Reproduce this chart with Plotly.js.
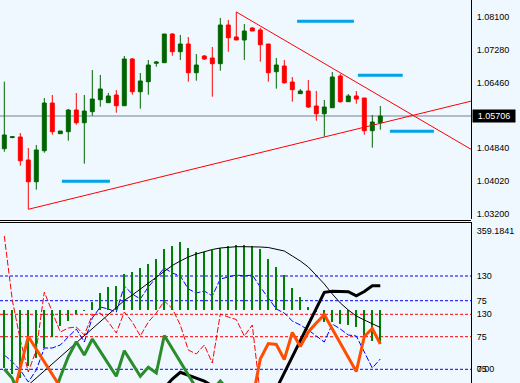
<!DOCTYPE html>
<html>
<head>
<meta charset="utf-8">
<script src="https://cdn.plot.ly/plotly-3.0.1.min.js"></script>
<style>
html,body{margin:0;padding:0;background:#F0F8FF;}
#chart{width:520px;height:383px;}
</style>
</head>
<body>
<div id="chart"></div>
<script>
// ---------- price panel data (EURUSD-like) ----------
const openP  = [1.04812,1.05090,1.05103,1.04531,1.03991,1.04762,1.05948,1.05185,1.05235,1.05774,1.05458,1.05732,1.06031,1.05956,1.06147,1.05881,1.07043,1.06229,1.06478,1.06936,1.06951,1.07664,1.07224,1.07416,1.06702,1.07117,1.07068,1.06926,1.07888,1.07590,1.07515,1.07814,1.07764,1.07416,1.06727,1.06869,1.06471,1.06180,1.06247,1.05874,1.05682,1.05831,1.06620,1.05981,1.06123,1.06073,1.05260,1.05458];
const highP  = [1.06478,1.05128,1.05202,1.04829,1.04904,1.06073,1.06147,1.05252,1.05799,1.06197,1.06147,1.06769,1.06645,1.06197,1.06272,1.07117,1.07068,1.06695,1.07018,1.06993,1.07664,1.07689,1.07640,1.07590,1.07167,1.07142,1.07341,1.08062,1.08013,1.08212,1.07913,1.07839,1.07814,1.07416,1.07068,1.07018,1.06595,1.06297,1.06520,1.06247,1.06023,1.06719,1.06670,1.06172,1.06247,1.06073,1.05650,1.05874];
const lowP   = [1.04737,1.05071,1.04389,1.03305,1.03792,1.04712,1.05160,1.05185,1.05011,1.05409,1.04439,1.05633,1.05856,1.05956,1.05707,1.05881,1.06155,1.05807,1.06155,1.06851,1.06951,1.07125,1.07018,1.06478,1.06503,1.07018,1.06105,1.06752,1.07224,1.07515,1.07018,1.07739,1.06976,1.06478,1.06304,1.06428,1.05981,1.06180,1.05824,1.05508,1.05110,1.05831,1.05956,1.05981,1.05931,1.05160,1.04837,1.05284];
const closeP = [1.05153,1.05108,1.04513,1.03991,1.04780,1.05948,1.05235,1.05252,1.05774,1.05458,1.05749,1.06048,1.06297,1.06123,1.05881,1.07043,1.06229,1.06496,1.06893,1.06968,1.07664,1.07224,1.07416,1.06702,1.06893,1.07043,1.06926,1.07888,1.07572,1.07515,1.07739,1.07739,1.07398,1.06702,1.06893,1.06453,1.06279,1.06247,1.05849,1.05682,1.05849,1.06595,1.05981,1.06123,1.06048,1.05260,1.05476,1.05625];
const priceLabel = "1.05706";
const priceTicks = [1.081,1.0728,1.0646,1.0484,1.0402,1.032];
const priceTickText = ["1.08100","1.07280","1.06460","1.04840","1.04020","1.03200"];

// trend lines (bar index, price)
const supportX = [3, 60];
const supportY = [1.03305, 1.06075];
const resistX  = [29, 60];
const resistY  = [1.08212, 1.04604];

// horizontal level segments (blue)
const levelStart = [7.2, 36.6, 44.2, 48.2];
const levelEnd   = [13.2, 43.7, 49.8, 53.7];
const levelPrice = [1.04001, 1.07980, 1.06637, 1.05245];

// ---------- indicator panel data ----------
const histBase = 154.0;
const histVals = [3.4,-12.2,-22.6,8.6,29.3,55.3,83.9,112.5,125.4,143.6,151.4,174.8,198.2,213.7,216.3,247.5,252.7,263.1,273.5,286.5,312.4,320.2,330.6,315.0,304.6,304.6,309.8,315.0,320.2,322.8,322.8,320.2,312.4,286.5,265.7,244.9,211.1,187.8,161.8,148.8,122.8,122.8,117.6,115.1,109.9,83.9,72.2,64.4];
const blueVals = [-45.9,-61.5,-79.3,-106.0,-79.3,-30.3,-30.3,-23.6,-5.8,12.0,-17.0,36.5,61.0,56.5,49.8,107.7,89.9,78.8,105.5,127.8,147.8,136.7,130.0,101.1,92.1,96.6,85.5,123.3,127.8,132.2,130.0,132.2,105.5,81.0,56.5,47.6,29.8,20.9,9.8,-3.6,-17.0,23.1,12.0,-1.4,-3.6,-39.2,-74.9,-54.8];
const redVals = [322.3,165.1,66.9,-11.7,42.3,184.8,135.6,86.5,96.4,98.8,79.2,128.3,133.2,111.1,84.1,135.6,111.1,76.7,111.1,133.2,162.7,144.2,103.7,42.3,32.5,54.6,10.4,130.7,123.4,117.2,76.7,103.7,-68.1,null,null,null,null,null,null,null,null,null,null,null,null,null,null,null];
const blackThin = [null,null,null,-40.8,-22.6,-4.4,13.8,31.9,50.1,68.3,86.5,104.7,122.8,141.0,159.2,178.7,193.0,208.5,224.1,239.7,255.3,269.6,281.3,291.7,299.4,305.9,311.1,315.0,317.6,318.4,318.4,318.4,317.6,316.3,312.4,307.2,294.3,281.3,265.7,244.9,221.5,195.6,172.2,154.0,138.4,128.0,117.6,108.6];
const blackThick = [null,null,null,null,null,null,null,null,null,null,null,null,null,null,null,null,null,null,null,null,-48.6,-25.2,-7.8,-14.8,-22.6,-30.4,-43.4,null,null,null,null,null,null,null,-51.2,-9.6,33.2,76.1,117.6,159.2,200.0,202.6,202.1,201.5,191.1,202.1,217.1,217.1];
const orangeVals = [null,-2.1,79.7,160.2,126.9,94.0,61.2,29.0,null,null,null,null,null,null,null,null,null,null,null,null,null,null,null,null,null,null,null,null,null,null,null,-4.7,101.7,142.0,139.4,100.5,170.6,134.2,171.9,195.2,216.8,179.9,143.0,106.2,69.3,160.2,181.0,140.7];
const greenVals = [75.8,51.6,-4.7,null,null,null,-4.7,55.0,107.7,146.7,112.1,153.7,121.5,89.0,56.8,123.3,90.1,56.8,80.2,65.4,162.8,127.7,94.0,60.2,26.4,null,21.2,44.6,21.2,null,null,null,null,null,null,null,null,null,null,null,null,null,null,null,null,null,null,null];
const blueLevels = [130, 75];
const redLevels = [130, 75];
const zeroLevel = 0;
const topLabel = 359.1841;

const idx = openP.map((_, i) => i);

const traces = [];
traces.push({
  type:'candlestick', x: idx, open: openP, high: highP, low: lowP, close: closeP,
  xaxis:'x', yaxis:'y',
  increasing:{line:{color:'#006400', width:1}, fillcolor:'#006400'},
  decreasing:{line:{color:'#FF0000', width:1}, fillcolor:'#FF0000'},
  whiskerwidth:0, hoverinfo:'skip'
});
traces.push({type:'scatter', mode:'lines', x: supportX, y: supportY, xaxis:'x', yaxis:'y', line:{color:'#FF0000', width:1}, hoverinfo:'skip'});
traces.push({type:'scatter', mode:'lines', x: resistX, y: resistY, xaxis:'x', yaxis:'y', line:{color:'#FF0000', width:1}, hoverinfo:'skip'});
levelPrice.forEach((p, k) => {
  traces.push({type:'scatter', mode:'lines', x:[levelStart[k], levelEnd[k]], y:[p, p], xaxis:'x', yaxis:'y', line:{color:'#00A2E8', width:3}, hoverinfo:'skip'});
});

// indicator panel
traces.push({type:'bar', x: idx, y: histVals.map(v => v - histBase), base: histBase, width: 0.25,
  marker:{color:'#008000', line:{width:0}}, xaxis:'x2', yaxis:'y4', hoverinfo:'skip'});
traces.push({type:'scatter', mode:'lines', x: idx, y: blueVals, xaxis:'x2', yaxis:'y2', line:{color:'#0000FF', width:1, dash:'6px,2px'}, hoverinfo:'skip'});
traces.push({type:'scatter', mode:'lines', x: idx, y: redVals, xaxis:'x2', yaxis:'y3', line:{color:'#FF0000', width:1, dash:'6px,2px'}, hoverinfo:'skip'});
traces.push({type:'scatter', mode:'lines', x: idx, y: blackThin, xaxis:'x2', yaxis:'y4', line:{color:'#000000', width:1}, hoverinfo:'skip'});
traces.push({type:'scatter', mode:'lines', x: idx, y: greenVals, xaxis:'x2', yaxis:'y5', line:{color:'#2A8C2A', width:3}, hoverinfo:'skip'});
traces.push({type:'scatter', mode:'lines', x: idx, y: orangeVals, xaxis:'x2', yaxis:'y5', line:{color:'#FF4E00', width:3}, hoverinfo:'skip'});
traces.push({type:'scatter', mode:'lines', x: idx, y: blackThick, xaxis:'x2', yaxis:'y4', line:{color:'#000000', width:3}, hoverinfo:'skip'});

const tickFont = {family:'Liberation Sans, Arial, sans-serif', size:9, color:'#000'};
const baseY = {side:'right', showgrid:false, zeroline:false, ticks:'outside', ticklen:3, tickcolor:'rgba(0,0,0,0)', tickfont: tickFont, fixedrange:true};

const shapes = [];
// current price line
shapes.push({type:'line', xref:'paper', yref:'y', x0:0, x1:1, y0: closeP[closeP.length-1], y1: closeP[closeP.length-1], line:{color:'#708090', width:1}, layer:'below'});
// separator
shapes.push({type:'line', xref:'paper', yref:'paper', x0:0, x1:1, y0:0.424282, y1:0.424282, line:{color:'#000', width:1}});
shapes.push({type:'line', xref:'paper', yref:'paper', x0:0, x1:1, y0:0.419060, y1:0.419060, line:{color:'#000', width:1}});
// level lines
blueLevels.forEach(v => shapes.push({type:'line', xref:'paper', yref:'y2', x0:0, x1:1, y0:v, y1:v, line:{color:'#0000FF', width:1, dash:'3px,2px'}, layer:'below'}));
redLevels.forEach(v => shapes.push({type:'line', xref:'paper', yref:'y3', x0:0, x1:1, y0:v, y1:v, line:{color:'#FF0000', width:1, dash:'3px,2px'}, layer:'below'}));
shapes.push({type:'line', xref:'paper', yref:'y4', x0:0, x1:1, y0:zeroLevel, y1:zeroLevel, line:{color:'#0000FF', width:1, dash:'3px,2px'}, layer:'below'});

const layout = {
  width:520, height:383, margin:{l:0, r:49, t:0, b:0},
  paper_bgcolor:'#F0F8FF', plot_bgcolor:'#F0F8FF', showlegend:false,
  bargap:0,
  xaxis:{domain:[0,1], range:[-0.5375, 58.3375], visible:false, anchor:'y', rangeslider:{visible:false}, fixedrange:true},
  yaxis:Object.assign({}, baseY, {domain:[0.4282,1], range:[1.030635, 1.08510], anchor:'x',
    showline:true, linecolor:'#000', linewidth:1, tickvals: priceTicks, ticktext: priceTickText}),
  xaxis2:{domain:[0,1], anchor:'y2', matches:'x', visible:false, fixedrange:true},
  yaxis2:Object.assign({}, baseY, {domain:[0,0.42037], anchor:'x2', range:[-108.26, 250.24],
    showline:true, linecolor:'#000', linewidth:1, tickvals: blueLevels, ticktext: blueLevels.map(String)}),
  yaxis3:Object.assign({}, baseY, {overlaying:'y2', anchor:'x2', range:[-38.68, 356.63], tickvals: redLevels, ticktext: redLevels.map(String)}),
  yaxis4:Object.assign({}, baseY, {overlaying:'y2', anchor:'x2', range:[-35.58, 382.55], tickvals:[zeroLevel, topLabel], ticktext:[zeroLevel.toFixed(2), String(topLabel)]}),
  yaxis5:Object.assign({}, baseY, {overlaying:'y2', anchor:'x2', range:[39.42, 457.55], tickvals:[75], ticktext:['75']}),
  shapes: shapes,
  annotations:[{
    xref:'paper', yref:'y', x:1, y: closeP[closeP.length-1], xanchor:'left', yanchor:'middle', xshift:1,
    text: priceLabel, showarrow:false, bgcolor:'#000', borderpad:1, width:40, height:10, align:'center',
    font:{family:'Liberation Sans, Arial, sans-serif', size:9, color:'#FFF'}
  }]
};

Plotly.newPlot('chart', traces, layout, {staticPlot:true, displayModeBar:false});
</script>
</body>
</html>
